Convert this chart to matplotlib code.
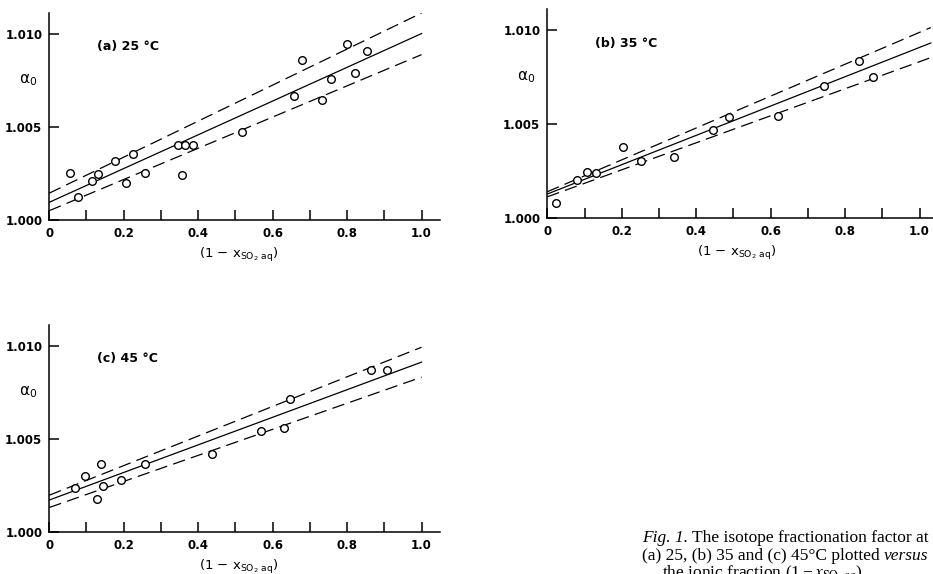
import numpy as np
import matplotlib.pyplot as plt

plt.rcParams['font.family'] = 'DejaVu Sans'
plt.rcParams['mathtext.default'] = 'regular'

# (a) 25 C
xa = [0.057, 0.078, 0.115, 0.130, 0.177, 0.207, 0.226, 0.257, 0.346, 0.357,
      0.365, 0.386, 0.519, 0.657, 0.678, 0.732, 0.756, 0.799, 0.822, 0.853]
ya = [1.00251, 1.00125, 1.00210, 1.00246, 1.00317, 1.00201, 1.00355, 1.00254,
      1.00400, 1.00242, 1.00400, 1.00401, 1.00473, 1.00667, 1.00857, 1.00645,
      1.00756, 1.00946, 1.00787, 1.00905]
# (b) 35 C
xb = [0.024, 0.079, 0.106, 0.131, 0.203, 0.252, 0.339, 0.445, 0.489, 0.619,
      0.744, 0.838, 0.874]
yb = [1.00083, 1.00206, 1.00247, 1.00242, 1.00379, 1.00303, 1.00323, 1.00471,
      1.00538, 1.00541, 1.00705, 1.00834, 1.00753]
# (c) 45 C
xc = [0.069, 0.096, 0.127, 0.140, 0.144, 0.193, 0.256, 0.4375, 0.568, 0.630,
      0.646, 0.865, 0.908]
yc = [1.00234, 1.00300, 1.00175, 1.00363, 1.00248, 1.00280, 1.00361, 1.00420,
      1.00541, 1.00559, 1.00711, 1.00871, 1.00870]

# fitted line and the two dashed limits: (intercept, slope)
fit_a = [(1.00095, 0.00905), (1.00144, 0.00966), (1.00050, 0.00837)]
fit_b = [(1.00129, 0.00779), (1.00141, 0.00847), (1.00114, 0.00718)]
fit_c = [(1.00170, 0.00741), (1.00196, 0.00795), (1.00130, 0.00700)]
xend = [1.0, 1.03, 1.0]

titles = ['(a) 25 °C', '(b) 35 °C', '(c) 45 °C']
xticks = [0, 0.2, 0.4, 0.6, 0.8, 1.0]
xticklabels = ['0', '0.2', '0.4', '0.6', '0.8', '1.0']
yticks = [1.000, 1.005, 1.010]
yticklabels = ['1.000', '1.005', '1.010']

fig = plt.figure(figsize=(9.33, 5.74), dpi=100)
pos = [[0.0528, 0.6167, 0.419, 0.3606],
       [0.5866, 0.6197, 0.419, 0.364],
       [0.0528, 0.0737, 0.419, 0.360]]
data = [(xa, ya, fit_a), (xb, yb, fit_b), (xc, yc, fit_c)]

for i in range(3):
    ax = fig.add_axes(pos[i])
    x, y, fit = data[i]
    xx = np.array([0, xend[i]])
    for k, (b0, b1) in enumerate(fit):
        if k == 0:
            ax.plot(xx, b0 + b1 * xx, color='k', lw=0.9)
        else:
            ax.plot(xx, b0 + b1 * xx, color='k', lw=0.9, dashes=(10, 5))
    ax.plot(x, y, 'o', mfc='white', mec='k', ms=5.5, mew=1.0)
    ax.set_xlim(0, 1.05)
    ax.set_ylim(1.000, 1.0111)
    ax.spines['top'].set_visible(False)
    ax.spines['right'].set_visible(False)
    ax.spines['left'].set_linewidth(1.1)
    ax.spines['bottom'].set_linewidth(1.1)
    ax.set_xticks(xticks)
    ax.set_xticklabels(xticklabels, fontweight='bold')
    ax.set_xticks(np.arange(0.1, 1.01, 0.2), minor=True)
    ax.set_yticks(yticks)
    ax.set_yticklabels(yticklabels, fontweight='bold')
    ax.tick_params(which='both', direction='in', length=7, width=1.1,
                   labelsize=8.5, pad=5)
    ax.text(0.128, 1.0093, titles[i], fontsize=9, fontweight='bold',
            va='center')
    ax.text(-0.058, 1.0075, r'$\alpha_0$', fontsize=11, ha='center',
            va='center', clip_on=False, math_fontfamily='dejavusans')
    ax.set_xlabel(r'(1 $-$ x$_{SO_2\ aq}$)', fontsize=9.5,
                  math_fontfamily='dejavusans')
    ax.xaxis.set_label_coords(0.486, -0.125)

# caption, cut off at the right edge as in the scan
cap = dict(family='Liberation Serif', fontsize=12.5, va='bottom')
t1 = fig.text(0.688, 1 - 546 / 574, 'Fig. 1.', style='italic', **cap)
fig.add_artist(plt.Annotation(' The isotope fractionation factor at',
                              xy=(1, 0), xycoords=t1,
                              annotation_clip=False, **cap))
t2 = fig.text(0.688, 1 - 564 / 574, '(a) 25, (b) 35 and (c) 45°C plotted ',
              **cap)
fig.add_artist(plt.Annotation('versus', xy=(1, 0), xycoords=t2,
                              style='italic', annotation_clip=False, **cap))
fig.text(0.7095, 1 - 585 / 574, 'the ionic fraction '
         r'$(1-\mathit{x}_{\mathrm{SO_2\,aq}})$.', math_fontfamily='stix',
         **cap)

plt.savefig('out.png', dpi=100)
